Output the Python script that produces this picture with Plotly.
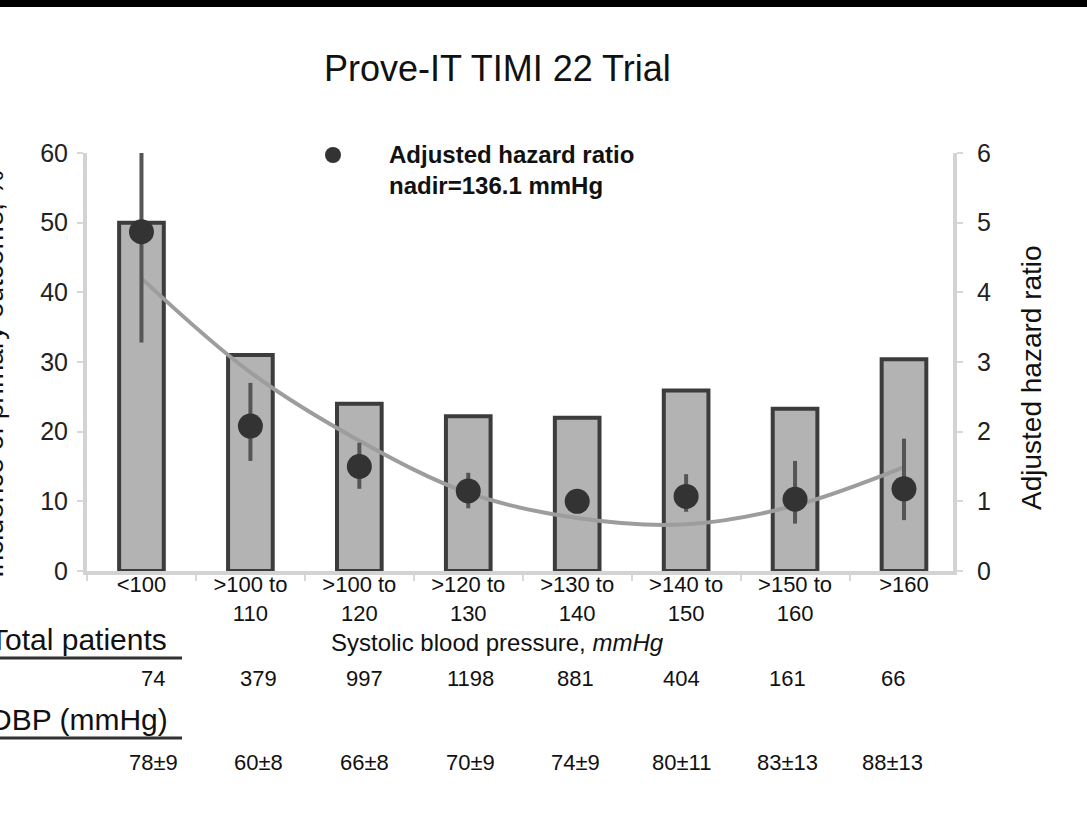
import plotly.graph_objects as go

# Systolic blood pressure groups
categories = ["&lt;100", "&gt;100 to<br>110", "&gt;100 to<br>120", "&gt;120 to<br>130",
              "&gt;130 to<br>140", "&gt;140 to<br>150", "&gt;150 to<br>160", "&gt;160"]

# Incidence of primary outcome (%) per group
incidence = [50, 31, 24, 22.2, 22, 25.9, 23.3, 30.4]

# Adjusted hazard ratio with confidence limits
hazard_ratio = [4.87, 2.08, 1.5, 1.15, 1.0, 1.07, 1.03, 1.18]
hr_upper = [6.0, 2.7, 1.84, 1.41, 1.15, 1.39, 1.58, 1.9]
hr_lower = [3.28, 1.58, 1.18, 0.9, 0.87, 0.85, 0.68, 0.73]

# Fitted hazard ratio curve (nadir 136.1 mmHg)
fitted_hr = [4.2, 2.85, 1.87, 1.12, 0.76, 0.67, 0.94, 1.49]

total_patients = [74, 379, 997, 1198, 881, 404, 161, 66]
dbp_mean = [78, 60, 66, 70, 74, 80, 83, 88]
dbp_sd = [9, 8, 8, 9, 9, 11, 13, 13]

FONT = "Liberation Sans, Arial, sans-serif"
W, H = 1087, 837
L, R, T, B = 87, 134, 153, 266
PW, PH = W - L - R, H - T - B


def px(x):
    return (x - L) / PW


def py(y):
    return (H - B - y) / PH


fig = go.Figure()

fig.add_trace(go.Bar(
    x=categories, y=incidence, width=0.41,
    marker=dict(color="#b3b3b3", line=dict(color="#3c3c3c", width=4)),
    yaxis="y", showlegend=False, hoverinfo="skip",
))

fig.add_trace(go.Scatter(
    x=categories, y=fitted_hr, mode="lines", line_shape="spline",
    line=dict(color="#9d9d9d", width=4), yaxis="y2", showlegend=False,
))

fig.add_trace(go.Scatter(
    x=categories, y=hazard_ratio, mode="markers",
    marker=dict(color="#333333", size=25),
    error_y=dict(type="data", symmetric=False,
                 array=[u - v for u, v in zip(hr_upper, hazard_ratio)],
                 arrayminus=[v - l for v, l in zip(hazard_ratio, hr_lower)],
                 color="#555555", thickness=4, width=0),
    yaxis="y2", showlegend=False,
))

axis_line = dict(showline=True, linecolor="#d3d3d3", linewidth=4, showgrid=False,
                 zeroline=False, ticks="outside", ticklen=6, tickwidth=2, tickcolor="#d8d8d8")

fig.update_layout(
    width=W, height=H,
    margin=dict(l=L, r=R, t=T, b=B, pad=0),
    paper_bgcolor="white", plot_bgcolor="white",
    font=dict(family=FONT, color="#111111"),
    xaxis=dict(type="category", range=[-0.5, 7.45], tickson="boundaries",
               tickfont=dict(size=22, color="#111111"), ticklabelstandoff=-9, **axis_line),
    yaxis=dict(range=[0, 60], tickvals=[0, 10, 20, 30, 40, 50, 60],
               tickfont=dict(size=25, color="#222222"), ticklabelstandoff=4, **axis_line),
    yaxis2=dict(range=[0, 6], overlaying="y", side="right", tickvals=[0, 1, 2, 3, 4, 5, 6],
                tickfont=dict(size=25, color="#222222"), ticklabelstandoff=9, **axis_line),
    showlegend=False,
)

shapes = [
    # dark band along the top edge
    dict(type="rect", xref="paper", yref="paper", x0=px(0), x1=px(W), y0=py(7), y1=py(-5),
         fillcolor="black", line=dict(width=0), layer="above"),
    # legend dot
    dict(type="circle", xref="paper", yref="paper", x0=px(325), x1=px(341), y0=py(163), y1=py(147),
         fillcolor="#333333", line=dict(width=0)),
    # header underlines
    dict(type="line", xref="paper", yref="paper", x0=px(0), x1=px(182), y0=py(658), y1=py(658),
         line=dict(color="#333333", width=3)),
    dict(type="line", xref="paper", yref="paper", x0=px(0), x1=px(182), y0=py(738), y1=py(738),
         line=dict(color="#333333", width=3)),
]

annotations = [
    dict(text="Prove-IT TIMI 22 Trial", x=px(497), y=py(68), font=dict(size=36)),
    dict(text="<b>Adjusted hazard ratio<br>nadir=136.1 mmHg</b>", x=px(387), y=py(139),
         xanchor="left", yanchor="top", align="left", font=dict(size=24)),
    dict(text="Systolic blood pressure, <i>mmHg</i>", x=px(497), y=py(642), font=dict(size=24)),
    dict(text="Adjusted hazard ratio", textangle=-90, x=px(1031), y=py(378), font=dict(size=28)),
    dict(text="Incidence of primary outcome, %", textangle=-90, x=px(-7), y=py(374),
         font=dict(size=28)),
    dict(text="Total patients", x=px(-12), y=py(639), xanchor="left", font=dict(size=30)),
    dict(text="DBP (mmHg)", x=px(-12), y=py(719), xanchor="left", font=dict(size=30)),
]

for i, (n, m, s) in enumerate(zip(total_patients, dbp_mean, dbp_sd)):
    xc = px(153 + 105.7 * i)
    annotations.append(dict(text=str(n), x=xc, y=py(678), font=dict(size=22)))
    annotations.append(dict(text=f"{m}±{s}", x=xc, y=py(762), font=dict(size=22)))

for a in annotations:
    a.setdefault("xref", "paper")
    a.setdefault("yref", "paper")
    a.setdefault("showarrow", False)
    a.setdefault("xanchor", "center")
    a.setdefault("yanchor", "middle")

fig.update_layout(shapes=shapes, annotations=annotations)

fig.write_html("out.html")
